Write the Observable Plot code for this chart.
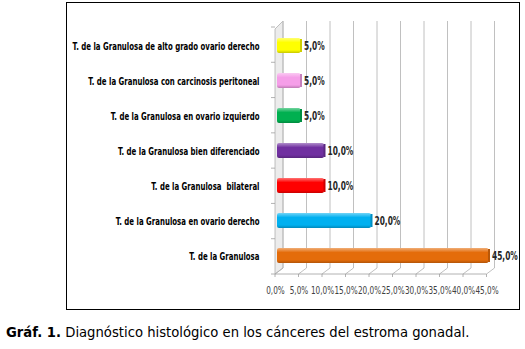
<!DOCTYPE html>
<html>
<head>
<meta charset="utf-8">
<script src="https://cdn.jsdelivr.net/npm/d3@7"></script>
<script src="https://cdn.jsdelivr.net/npm/@observablehq/plot@0.6"></script>
<style>
  html, body { margin: 0; padding: 0; background: #fff; }
  #wrap { position: relative; width: 525px; height: 349px; overflow: hidden; }
  #box { position: absolute; left: 66px; top: 2px; width: 454px; height: 308px; border: 1px solid #000; box-sizing: border-box; }
  #chart { position: absolute; left: 0; top: 0; }
  #caption { position: absolute; left: 6px; top: 325px; font-family: "DejaVu Sans", Verdana, sans-serif; font-size: 13.2px; color: #000; white-space: nowrap; }
</style>
</head>
<body>
<div id="wrap">
  <div id="box"></div>
  <div id="chart"></div>
  <div id="caption"><b>Gráf. 1.</b> Diagnóstico histológico en los cánceres del estroma gonadal.</div>
</div>
<script>
const categories = [
  "T. de la Granulosa de alto grado ovario derecho",
  "T. de la Granulosa con carcinosis peritoneal",
  "T. de la Granulosa en ovario izquierdo",
  "T. de la Granulosa bien diferenciado",
  "T. de la Granulosa  bilateral",
  "T. de la Granulosa en ovario derecho",
  "T. de la Granulosa"
];
const values = [5, 5, 5, 10, 10, 20, 45];
const colors = ["#ffff00", "#f59ee8", "#00b050", "#7030a0", "#ff0000", "#00b0f0", "#e46c0a"];
const xTicks = [0, 5, 10, 15, 20, 25, 30, 35, 40, 45];

const data = categories.map((c, i) => ({category: c, value: values[i], side: d3.color(colors[i]).darker(0.6).formatHex()}));
const fmt = v => v.toFixed(1).replace(".", ",") + "%";
const gradIds = colors.map((c, i) => `url(#bargrad${i})`);
const labelFont = `"DejaVu Sans Condensed", "Liberation Sans", sans-serif`;

const DX = 8, DY = 6; // 3D depth offsets

const frame = Plot.ruleX(xTicks, {
  x: d => d,
  render: (index, scales, vals, dims) => {
    const g = d3.create("svg:g");
    const bottom = dims.height - dims.marginBottom;
    const top = dims.marginTop;
    const x0 = scales.x(0);
    g.append("path")
      .attr("d", `M${x0},${top + 2}L${x0 + DX},${top - DY}L${x0 + DX},${bottom - DY}L${x0},${bottom}Z`)
      .attr("fill", "#ececec").attr("stroke", "#b0b0b0").attr("stroke-width", 0.8);
    for (let k = 0; k <= categories.length; k++) {
      const yy = top + k * ((bottom - top) / categories.length);
      g.append("line").attr("x1", x0 - 4).attr("x2", x0).attr("y1", yy).attr("y2", yy)
        .attr("stroke", "#a0a0a0").attr("stroke-width", 0.8);
    }
    for (const i of index) {
      const xv = vals.x[i];
      g.append("line").attr("x1", xv + DX).attr("x2", xv + DX).attr("y1", top - DY).attr("y2", bottom - DY)
        .attr("stroke", "#c0c0c0").attr("stroke-width", 1);
      g.append("line").attr("x1", xv).attr("x2", xv + DX).attr("y1", bottom).attr("y2", bottom - DY)
        .attr("stroke", "#b0b0b0").attr("stroke-width", 0.8);
      g.append("line").attr("x1", xv).attr("x2", xv).attr("y1", bottom).attr("y2", bottom + 3)
        .attr("stroke", "#a0a0a0").attr("stroke-width", 0.8);
    }
    g.append("line").attr("x1", x0).attr("x2", scales.x(45)).attr("y1", bottom).attr("y2", bottom)
      .attr("stroke", "#a0a0a0").attr("stroke-width", 0.8);
    return g.node();
  }
});

const plot = Plot.plot({
  width: 525,
  height: 311,
  marginLeft: 275,
  marginRight: 38.5,
  marginTop: 27,
  marginBottom: 37,
  style: {background: "transparent", overflow: "visible"},
  x: {domain: [0, 45], ticks: xTicks},
  y: {domain: categories, paddingInner: 0.57, paddingOuter: 0.285},
  color: {type: "ordinal", domain: categories, range: gradIds},
  marks: [
    frame,
    Plot.barX(data, {x: "value", y: "category", fill: "category", dx: 2, rx: 2}),
    Plot.tickX(data, {x: "value", y: "category", stroke: {value: "side", scale: null}, strokeWidth: 2, dx: 2, insetTop: 1, insetBottom: 1}),
    Plot.axisY({tickSize: 0, tickPadding: 16, fontSize: 11, fontWeight: "bold", fontFamily: labelFont, fill: "#000", label: null, className: "ylab"}),
    Plot.axisX({ticks: xTicks, tickSize: 0, tickPadding: 12, tickFormat: fmt, fontSize: 11, fontFamily: labelFont, fill: "#404040", label: null, className: "xlab"}),
    Plot.text(data, {x: "value", y: "category", text: d => fmt(d.value), textAnchor: "start", dx: 5, fontSize: 11.5, fontWeight: "bold", fontFamily: labelFont, fill: "#262626", className: "vlab"})
  ]
});

const svg = d3.select(plot);
const defs = svg.insert("defs", ":first-child");
colors.forEach((c, i) => {
  const gr = defs.append("linearGradient").attr("id", `bargrad${i}`).attr("x1", 0).attr("y1", 0).attr("x2", 0).attr("y2", 1);
  const base = d3.color(c);
  gr.append("stop").attr("offset", "0%").attr("stop-color", d3.interpolateRgb(c, "#fff")(0.45));
  gr.append("stop").attr("offset", "30%").attr("stop-color", c);
  gr.append("stop").attr("offset", "80%").attr("stop-color", c);
  gr.append("stop").attr("offset", "100%").attr("stop-color", base.darker(0.7).formatHex());
});
document.getElementById("chart").appendChild(plot);

// horizontally condense text around its anchor point to mimic the narrow original font
function condense(selector, ratio) {
  plot.querySelectorAll(selector + " text").forEach(t => {
    const x = +(t.getAttribute("x") || 0);
    const tr = t.getAttribute("transform") || "";
    t.setAttribute("transform", `${tr} translate(${x},0) scale(${ratio.toFixed(4)},1) translate(${-x},0)`);
  });
}
let maxW = 0;
plot.querySelectorAll(".ylab text").forEach(t => { maxW = Math.max(maxW, t.getComputedTextLength()); });
condense(".ylab", 187 / maxW);
condense(".xlab", 0.74);
condense(".vlab", 0.72);
</script>
</body>
</html>
